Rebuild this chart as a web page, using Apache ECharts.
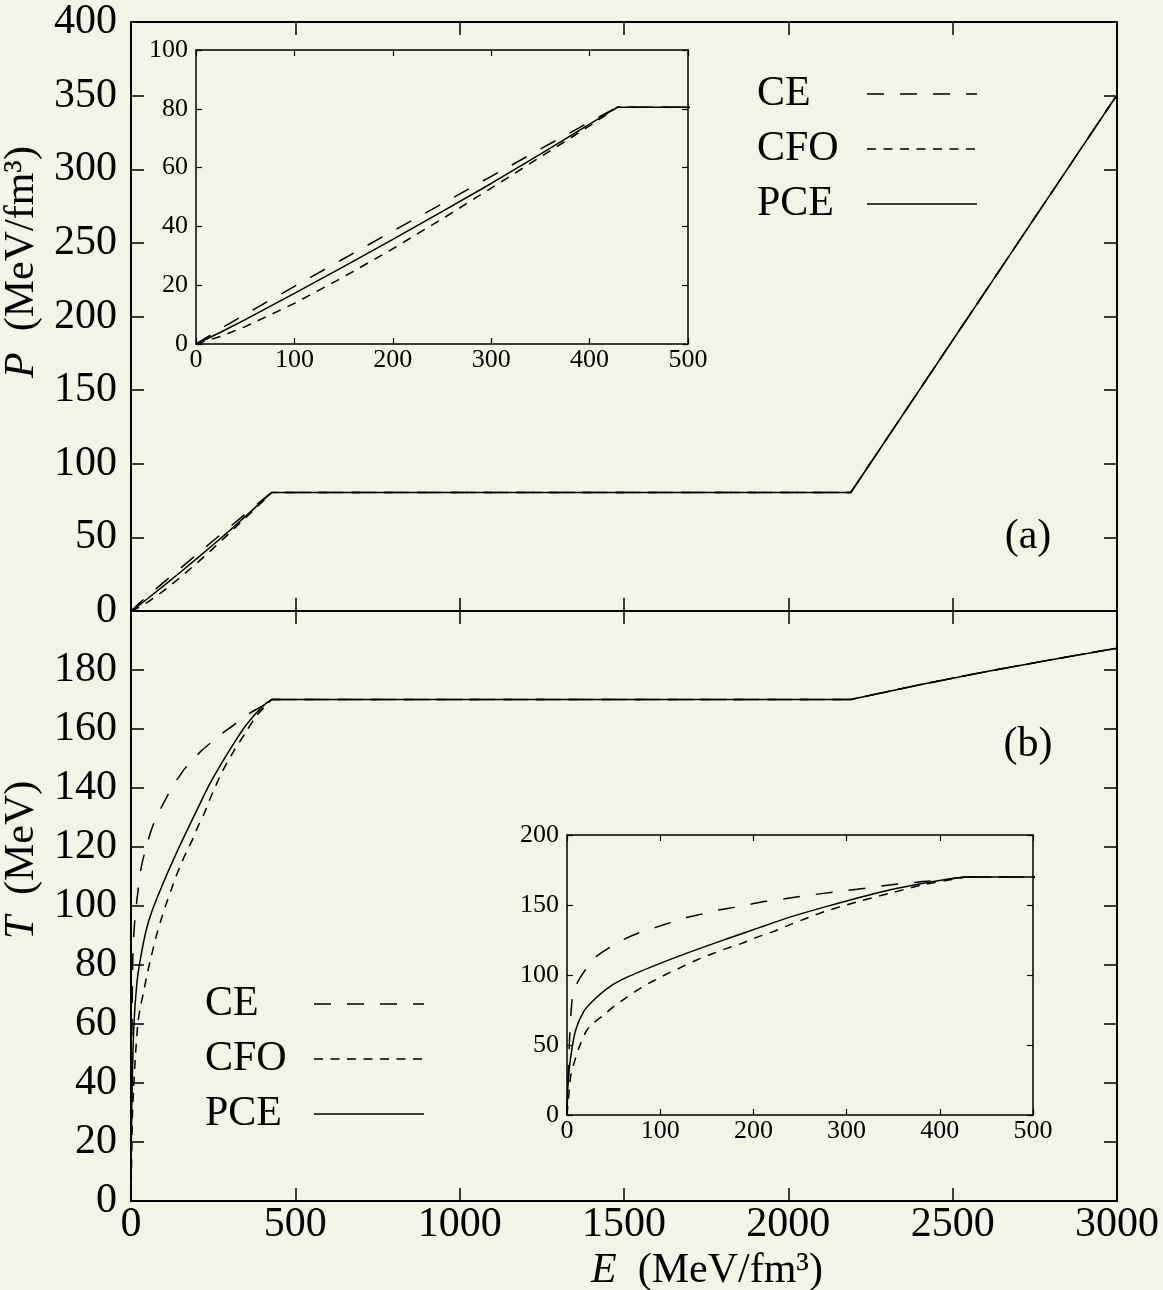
<!DOCTYPE html>
<html>
<head>
<meta charset="utf-8">
<script src="https://cdn.jsdelivr.net/npm/echarts@6/dist/echarts.min.js"></script>
<style>
html,body{margin:0;padding:0;background:#f3f3e7;}
#c{width:1163px;height:1290px;}
</style>
</head>
<body>
<div id="c"></div>
<script>
// ---------- data ----------
// Panel (a): pressure P vs energy density E
const E_P   = [0, 25, 50, 100, 150, 200, 250, 300, 350, 400, 428, 2190, 3000];
const P_CE  = [0, 5.2, 10.1, 19.6, 29.0, 38.4, 47.7, 57.0, 66.3, 75.5, 80.5, 80.5, 350.5];
const P_CFO = [0, 2.6, 5.9, 13.8, 22.8, 32.4, 42.5, 53.0, 63.6, 74.2, 80.5, 80.5, 350.5];
const P_PCE = [0, 4.0, 8.3, 17.2, 26.3, 35.6, 45.0, 54.6, 64.6, 74.8, 80.5, 80.5, 350.5];

// Panel (b): temperature T vs energy density E
const E_T_CE  = [0, 1, 2, 3, 4, 5.5, 8, 10.7, 15, 19.6, 31, 46, 61, 77.5, 95, 111, 129, 145, 162, 179, 198, 214, 239, 275, 311, 346, 382, 411, 428, 2190, 2400, 2600, 2800, 3000];
const T_CE    = [0, 25, 42, 58, 70, 82, 89, 94, 99, 103.6, 113, 119.8, 125.5, 130.2, 134, 137.4, 141.2, 143.6, 146.4, 148.3, 150.7, 152.6, 155, 158.3, 161.2, 164.3, 166.7, 168.6, 170, 170, 175, 179.4, 183.5, 187.4];
const E_T_CFO = [0, 1, 2.5, 4, 8, 14, 21.4, 30, 39.3, 50, 62.5, 76.8, 91, 107, 121.4, 139.3, 155.3, 171.4, 187.5, 203.6, 221.4, 239.3, 257, 275, 311, 346, 382, 411, 428, 2190, 2400, 2600, 2800, 3000];
const T_CFO   = [0, 8, 18, 28, 38, 50, 60.7, 66.5, 71.4, 77.4, 83.3, 89.8, 95.2, 100.7, 105.2, 110.7, 115, 119, 122.6, 126.9, 131, 136, 140.5, 145, 152.2, 158.3, 164.5, 168, 170, 170, 175, 179.4, 183.5, 187.4];
const E_T_PCE = [0, 0.5, 1.5, 3.5, 9, 18, 28.5, 46, 64, 100, 136, 171, 207, 240, 275, 311, 346, 382, 410, 428, 2190, 2400, 2600, 2800, 3000];
const T_PCE   = [0, 14, 25, 39, 60, 74, 82, 91.7, 98.3, 108.3, 117.4, 125.7, 134, 141.5, 148.3, 154.8, 160.7, 165.5, 168.6, 170, 170, 175, 179.4, 183.5, 187.4];

const SERIES_NAMES = ['CE', 'CFO', 'PCE'];
const E_HADRON_END = 428;   // end of the hadronic branch (kink)
// axis ranges: [min, max, interval]
const X_MAIN  = [0, 3000, 500];
const Y_P     = [0, 400, 50];
const Y_T     = [0, 200, 20];
const X_INSET = [0, 500, 100];
const Y_P_IN  = [0, 100, 20];
const Y_T_IN  = [0, 200, 50];

// ---------- styling ----------
const FONT = "'Liberation Serif', 'Times New Roman', serif";
const DASH = { CE: [17, 16], CFO: [9, 7.5], PCE: 'solid' };

const zip = (xs, ys) => xs.map((x, i) => [x, ys[i]]);

function axis(gridIndex, position, range, o) {
  o = o || {};
  const main = !!o.main;
  return {
    type: 'value', gridIndex, position,
    min: range[0], max: range[1], interval: range[2],
    axisLine: { show: true, onZero: false, lineStyle: { color: '#000', width: main ? 2 : 1.5 } },
    axisTick: { show: true, inside: true, length: main ? 13 : 6, lineStyle: { color: '#000', width: main ? 1.5 : 1.2 } },
    splitLine: { show: false },
    axisLabel: o.labels ? {
      show: true, color: '#000', fontFamily: FONT, fontSize: main ? 42 : 26,
      margin: o.margin != null ? o.margin : (main ? 14 : 8),
      formatter: o.formatter || (v => String(v))
    } : { show: false },
    name: o.name || '', nameLocation: 'middle', nameGap: o.nameGap || 0,
    nameTextStyle: o.nameStyle || {}
  };
}

function titleStyle(padLeft) {
  return {
    color: '#000', fontFamily: FONT, fontSize: 42, padding: [0, 0, 0, padLeft],
    rich: { i: { fontStyle: 'italic', fontFamily: FONT, fontSize: 42, color: '#000' } }
  };
}

const xAxes = [
  axis(0, 'bottom', X_MAIN, { main: true }),
  axis(0, 'top', X_MAIN, { main: true }),
  axis(1, 'bottom', X_MAIN, { main: true, labels: true, margin: 3,
      name: '{i|E}  (MeV/fm³)', nameGap: 49, nameStyle: titleStyle(166) }),
  axis(1, 'top', X_MAIN, { main: true }),
  axis(2, 'bottom', X_INSET, { labels: true, margin: 3 }),
  axis(2, 'top', X_INSET, {}),
  axis(3, 'bottom', X_INSET, { labels: true, margin: 3 }),
  axis(3, 'top', X_INSET, {})
];
const yAxes = [
  axis(0, 'left', Y_P, { main: true, labels: true,
      name: '{i|P}  (MeV/fm³)', nameGap: 82, nameStyle: titleStyle(109) }),
  axis(0, 'right', Y_P, { main: true }),
  axis(1, 'left', Y_T, { main: true, labels: true, formatter: v => (v === 200 ? '' : String(v)),
      name: '{i|T}  (MeV)', nameGap: 82, nameStyle: titleStyle(92) }),
  axis(1, 'right', Y_T, { main: true }),
  axis(2, 'left', Y_P_IN, { labels: true }),
  axis(2, 'right', Y_P_IN, {}),
  axis(3, 'left', Y_T_IN, { labels: true }),
  axis(3, 'right', Y_T_IN, {})
];

const P_DATA = { CE: zip(E_P, P_CE), CFO: zip(E_P, P_CFO), PCE: zip(E_P, P_PCE) };
const T_DATA = { CE: zip(E_T_CE, T_CE), CFO: zip(E_T_CFO, T_CFO), PCE: zip(E_T_PCE, T_PCE) };

function lineSeries(name, axisIdx, data, smooth) {
  return {
    type: 'line', name, xAxisIndex: axisIdx, yAxisIndex: axisIdx,
    data, symbol: 'none', showSymbol: false, clip: true,
    smooth: smooth ? 0.3 : false,
    lineStyle: { color: '#000', width: 1.5, type: DASH[name] },
    itemStyle: { color: 'rgba(0,0,0,0)', borderWidth: 0 },
    emphasis: { disabled: true }, silent: true, animation: false
  };
}

const series = [];
// P panels (main a = axes 0, inset a = axes 4)
[0, 4].forEach(ax => SERIES_NAMES.forEach(n => series.push(lineSeries(n, ax, P_DATA[n], false))));
// T panels (main b = axes 2, inset b = axes 6): smooth hadronic branch, straight beyond the kink
[2, 6].forEach(ax => SERIES_NAMES.forEach(n => {
  const d = T_DATA[n];
  series.push(lineSeries(n, ax, d.filter(p => p[0] <= E_HADRON_END), true));
  series.push(lineSeries(n, ax, d.filter(p => p[0] >= E_HADRON_END), false));
}));

function legend(left, top, textW) {
  return {
    show: true, orient: 'vertical', left, top, padding: 0, align: 'right',
    itemWidth: 110, itemHeight: 14, itemGap: 11, selectedMode: false,
    data: SERIES_NAMES,
    formatter: n => '{t|' + n + '}',
    textStyle: {
      color: '#000', fontFamily: FONT, fontSize: 42, lineHeight: 44,
      rich: { t: { width: textW, align: 'left', color: '#000', fontFamily: FONT, fontSize: 42, lineHeight: 44 } }
    },
    itemStyle: { color: 'rgba(0,0,0,0)', borderWidth: 0, opacity: 0 },
    lineStyle: { width: 1.5, color: '#000' }
  };
}

const gridBase = { outerBoundsMode: 'none', containLabel: false };
const option = {
  backgroundColor: '#f3f3e7',
  animation: false,
  grid: [
    Object.assign({ left: 131, top: 22, width: 986, height: 589 }, gridBase),
    Object.assign({ left: 131, top: 611, width: 986, height: 590 }, gridBase),
    Object.assign({ left: 196, top: 50, width: 492, height: 294 }, gridBase),
    Object.assign({ left: 567, top: 835, width: 466, height: 280 }, gridBase)
  ],
  xAxis: xAxes,
  yAxis: yAxes,
  legend: [legend(757, 72, 105), legend(205, 982, 104)],
  graphic: [
    { type: 'text', x: 1028, y: 537, silent: true,
      style: { text: '(a)', fill: '#000', fontFamily: FONT, fontSize: 42, align: 'center', verticalAlign: 'middle' } },
    { type: 'text', x: 1028, y: 745, silent: true,
      style: { text: '(b)', fill: '#000', fontFamily: FONT, fontSize: 42, align: 'center', verticalAlign: 'middle' } }
  ],
  series
};

const chart = echarts.init(document.getElementById('c'), null, { renderer: 'canvas' });
chart.setOption(option);
</script>
</body>
</html>
